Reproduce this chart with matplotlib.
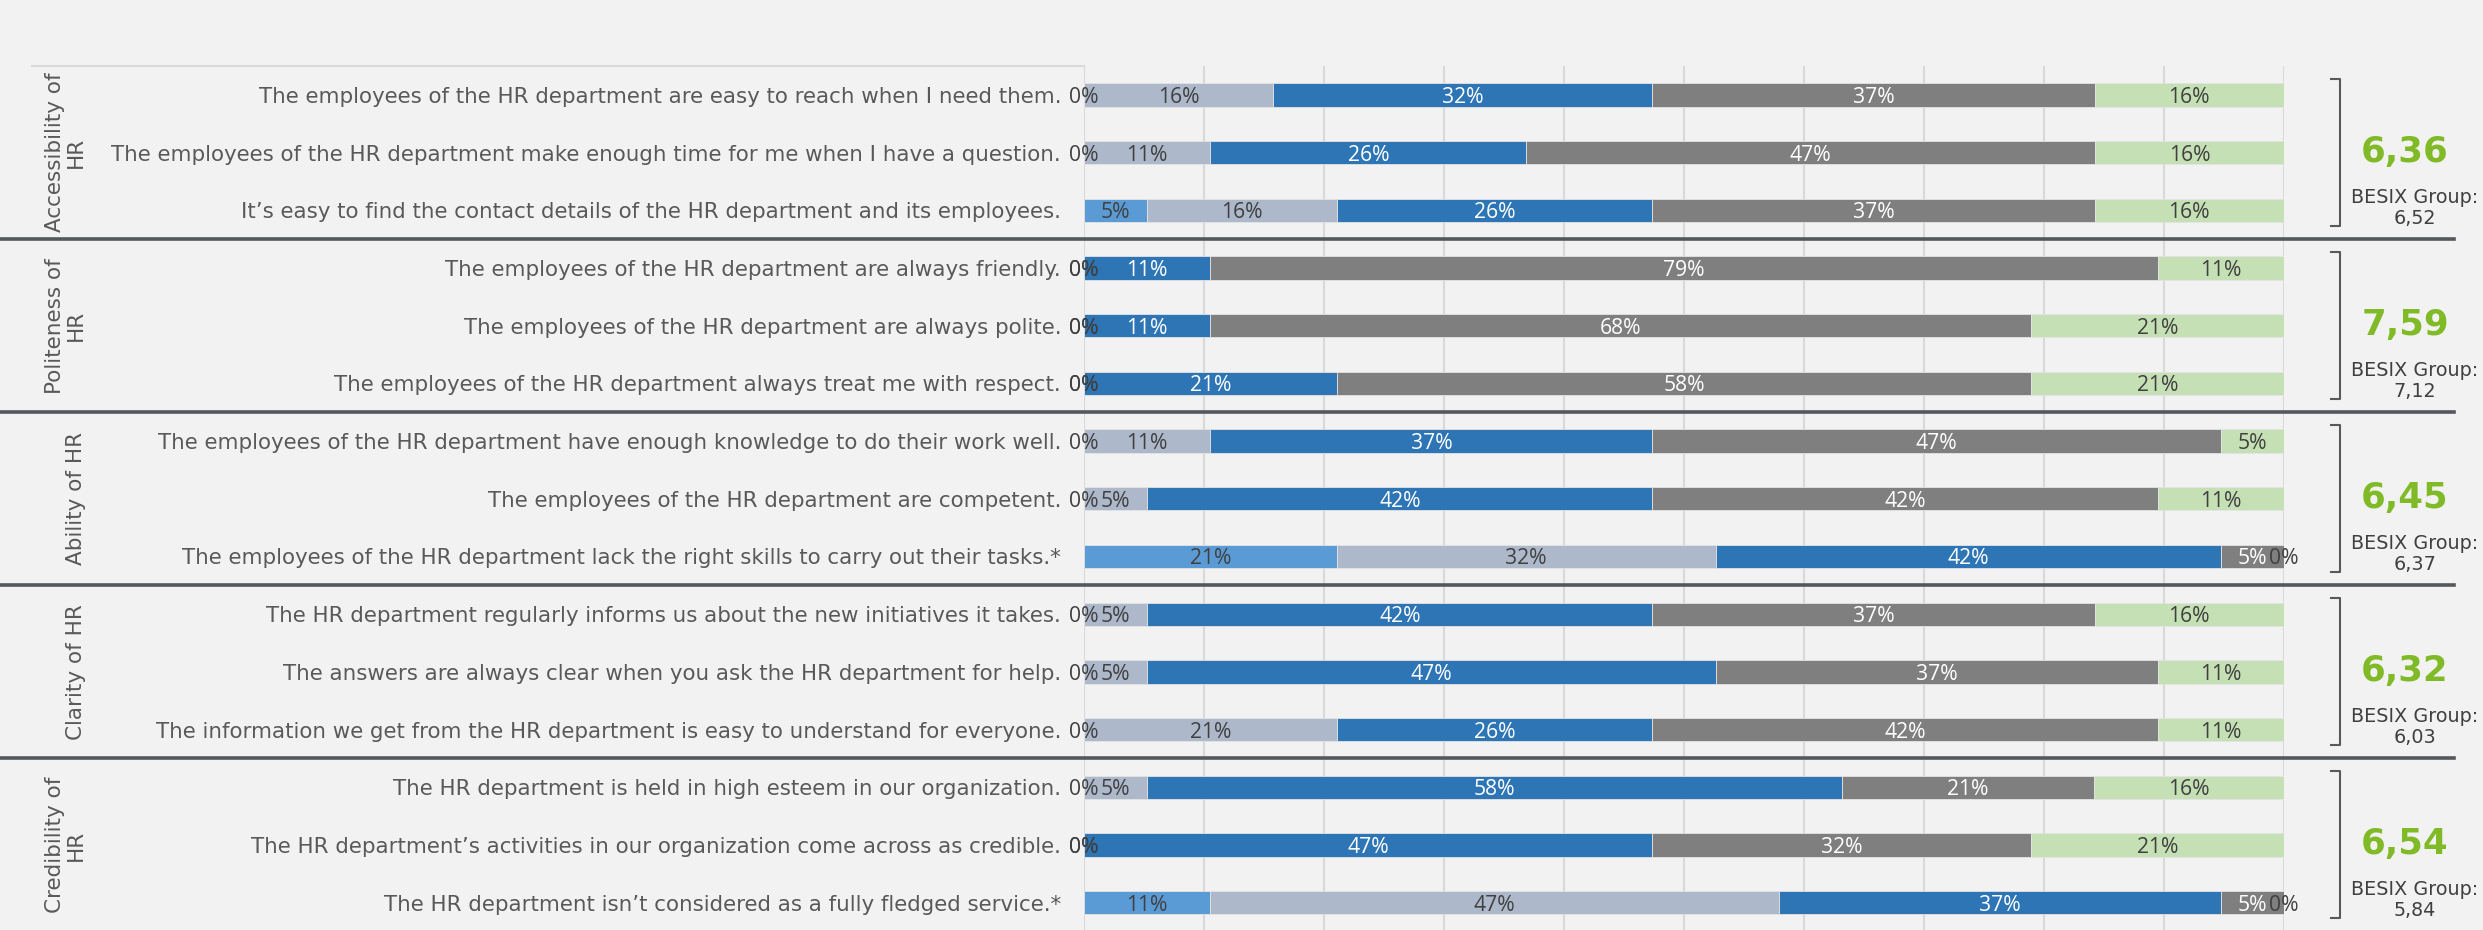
#!/usr/bin/env python3
# grafico de barras apiladas: percepcion del departamento de RRHH por dimension
import matplotlib.pyplot as plt
from matplotlib.transforms import blended_transform_factory

# preguntas de la encuesta (de arriba hacia abajo)
preguntas = [
    'The employees of the HR department are easy to reach when I need them.',
    'The employees of the HR department make enough time for me when I have a question.',
    'It\u2019s easy to find the contact details of the HR department and its employees.',
    'The employees of the HR department are always friendly.',
    'The employees of the HR department are always polite.',
    'The employees of the HR department always treat me with respect.',
    'The employees of the HR department have enough knowledge to do their work well.',
    'The employees of the HR department are competent.',
    'The employees of the HR department lack the right skills to carry out their tasks.*',
    'The HR department regularly informs us about the new initiatives it takes.',
    'The answers are always clear when you ask the HR department for help.',
    'The information we get from the HR department is easy to understand for everyone.',
    'The HR department is held in high esteem in our organization.',
    'The HR department\u2019s activities in our organization come across as credible.',
    'The HR department isn\u2019t considered as a fully fledged service.*',
]

# dimensiones (3 preguntas cada una) y sus puntajes
dimensiones = ['Accessibility of\nHR', 'Politeness of\nHR', 'Ability of HR',
               'Clarity of HR', 'Credibility of\nHR']
puntajes = ['6,36', '7,59', '6,45', '6,32', '6,54']
puntajes_grupo = ['6,52', '7,12', '6,37', '6,03', '5,84']

cat_1 = [0, 0, 5.26, 0, 0, 0, 0, 0, 21.05, 0, 0, 0, 0, 0, 10.53]
cat_2 = [15.79, 10.53, 15.79, 0, 0, 0, 10.53, 5.26, 31.58, 5.26, 5.26, 21.05, 5.26, 0, 47.37]
cat_3 = [31.58, 26.32, 26.32, 10.53, 10.53, 21.05, 36.84, 42.11, 42.11, 42.11, 47.37, 26.32, 57.89, 47.37, 36.84]
cat_4 = [36.84, 47.37, 36.84, 78.95, 68.42, 57.89, 47.37, 42.11, 5.26, 36.84, 36.84, 42.11, 21.05, 31.58, 5.26]
cat_5 = [15.79, 15.79, 15.79, 10.53, 21.05, 21.05, 5.26, 10.53, 0, 15.79, 10.53, 10.53, 15.79, 21.05, 0]

colores = ['#5B9BD5', '#ADB9CA', '#2E75B6', '#7F7F7F', '#C5E0B4']
colores_texto = ['#404040', '#404040', 'white', 'white', '#404040']

FONDO = '#F2F2F2'
GRIS_TEXTO = '#595959'
VERDE = '#80BA27'

# medidas en pixeles de la figura (2483 x 930)
W, H = 2483, 930
X0, X1 = 1084, 2284          # inicio y fin de las barras
Y_TOP = 66                   # borde superior de la zona de barras
PASO = 57.69                 # distancia entre filas


def px(x):
    """pixel horizontal -> coordenada de ejes"""
    return (x - X0) / (X1 - X0)


def main():
    fig = plt.figure(figsize=(W / 100, H / 100), dpi=100, facecolor=FONDO)
    ax = fig.add_axes([X0 / W, 0, (X1 - X0) / W, (H - Y_TOP) / H])
    ax.set_facecolor(FONDO)

    filas = list(range(len(preguntas)))
    series = [cat_1, cat_2, cat_3, cat_4, cat_5]

    # barras apiladas + etiquetas de porcentaje
    izq = [0.0] * len(filas)
    for serie, color, ctexto in zip(series, colores, colores_texto):
        ax.barh(filas, serie, left=izq, height=0.404, color=color,
                edgecolor='#E4E4E4', linewidth=0.6, zorder=2)
        for i, v in enumerate(serie):
            ax.text(izq[i] + v / 2, i, f'{v:.0f}%', ha='center', va='center_baseline',
                    fontsize=15.2, family='Open Sans', color=ctexto, zorder=3)
        izq = [a + b for a, b in zip(izq, serie)]

    ax.set_xlim(0, 100)
    ax.set_ylim(14 + 27.4 / PASO, -29 / PASO)
    ax.set_xticks(range(0, 101, 10))
    ax.xaxis.grid(True, color='#D9D9D9', linewidth=1.5, zorder=0)
    ax.set_axisbelow(True)
    ax.tick_params(axis='x', length=0, labelbottom=False)
    for s in ax.spines.values():
        s.set_visible(False)

    ax.set_yticks(filas)
    ax.set_yticklabels(preguntas, fontsize=15.4, family='DejaVu Sans', color=GRIS_TEXTO)
    ax.tick_params(axis='y', length=0, pad=16.5)

    trans = blended_transform_factory(ax.transAxes, ax.transData)

    # borde superior de la zona de etiquetas
    ax.plot([px(32), 0], [1, 1], transform=ax.transAxes, color='#D9D9D9',
            linewidth=1.5, clip_on=False)

    # separadores entre dimensiones
    for g in range(1, len(dimensiones)):
        y = 3 * g - 0.5
        ax.plot([px(0), px(2454)], [y, y], transform=trans, color='#54575C',
                linewidth=2.6, clip_on=False, zorder=4)

    for g, (nombre, punt, punt_g) in enumerate(zip(dimensiones, puntajes, puntajes_grupo)):
        c = 3 * g + 1

        # nombre de la dimension, vertical
        ax.text(px(86), c, nombre, transform=trans, rotation=90, rotation_mode='anchor',
                ha='center', va='bottom', multialignment='center', linespacing=1.05,
                fontsize=15.5, family='DejaVu Sans', color=GRIS_TEXTO)

        # corchete a la derecha
        h = 73.5 / PASO
        ax.plot([px(2331), px(2340), px(2340), px(2331)], [c - h, c - h, c + h, c + h],
                transform=trans, color=GRIS_TEXTO, linewidth=1.5, clip_on=False)

        # puntaje y referencia del grupo
        ax.text(px(2405), c + 9 / PASO, punt, transform=trans, ha='center', va='baseline',
                fontsize=25.6, fontweight='bold', family='DejaVu Sans', color=VERDE)
        ax.text(px(2415), c + 50 / PASO, 'BESIX Group:', transform=trans, ha='center',
                va='baseline', fontsize=13.8, family='DejaVu Sans', color='#404040')
        ax.text(px(2415), c + 71 / PASO, punt_g, transform=trans, ha='center',
                va='baseline', fontsize=13.8, family='DejaVu Sans', color='#404040')

    fig.savefig('out.png', dpi=100, facecolor=FONDO)
    plt.close(fig)


if __name__ == '__main__':
    main()
